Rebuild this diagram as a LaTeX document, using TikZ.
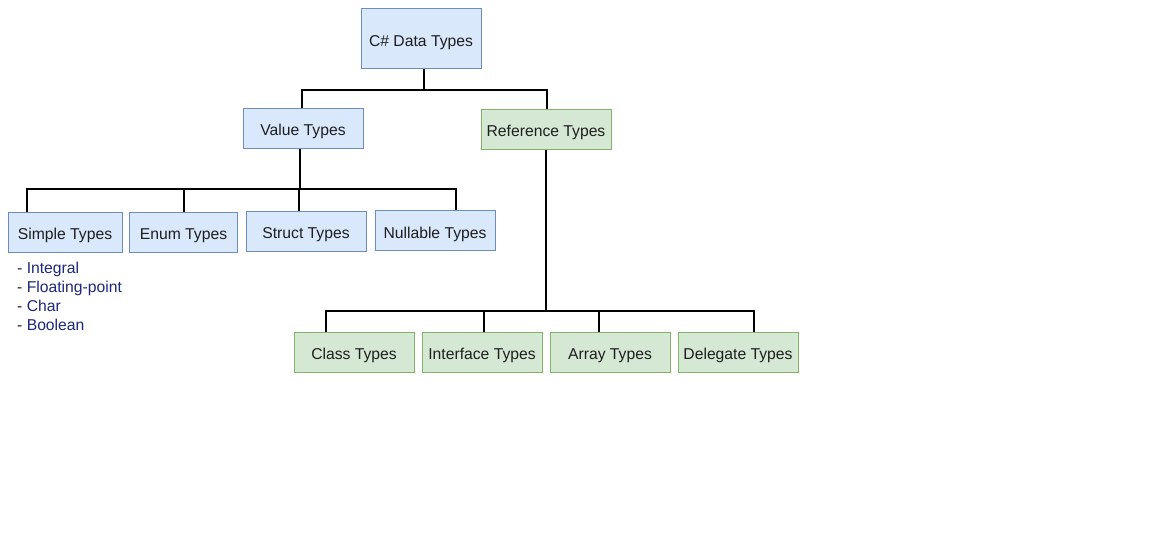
\documentclass[tikz,border=0pt]{standalone}
\usepackage{fontspec}
\setmainfont{Liberation Sans}
\definecolor{bluefill}{HTML}{DAE8FC}
\definecolor{bluestroke}{HTML}{6C8EBF}
\definecolor{greenfill}{HTML}{D5E8D4}
\definecolor{greenstroke}{HTML}{82B366}
\definecolor{txt}{HTML}{1E1E1E}
\definecolor{navy}{HTML}{1E2878}
\begin{document}
\begin{tikzpicture}[x=1pt,y=1pt,
  base/.style={draw, line width=1pt, inner sep=0pt, text=txt,
    font=\fontsize{15.7}{19}\selectfont, minimum height=40pt,
    text height=15pt, text depth=0pt},
  vbox/.style={base, fill=bluefill, draw=bluestroke},
  rbox/.style={base, fill=greenfill, draw=greenstroke},
  conn/.style={draw=black, line width=2pt}]
\useasboundingbox (0,0) rectangle (1175,-543);
\fill[white] (0,0) rectangle (1175,-543);

\node[vbox, minimum width=120pt, minimum height=60pt] (root) at (421,-39) {C\# Data Types};
\node[vbox, minimum width=120pt] (value) at (303,-128) {Value Types};
\node[rbox, minimum width=130pt] (ref) at (546,-129) {Reference Types};

\node[vbox, minimum width=114pt] (simple) at (65,-232) {Simple Types};
\node[vbox, minimum width=108pt] (enum) at (183.5,-232) {Enum Types};
\node[vbox, minimum width=120pt] (struct) at (306,-231) {Struct Types};
\node[vbox, minimum width=120pt] (nullable) at (435,-230.5) {Nullable Types};

\node[rbox, minimum width=120pt] (class) at (354,-352) {Class Types};
\node[rbox, minimum width=120pt] (iface) at (482,-352) {Interface Types};
\node[rbox, minimum width=120pt] (array) at (610,-352) {Array Types};
\node[rbox, minimum width=120pt] (deleg) at (738,-352) {Delegate Types};

\node[anchor=west, inner sep=0pt, align=left, text=navy,
  font=\fontsize{15.7}{19}\selectfont] (list) at (17,-296.5)
  {\textcolor{txt}{-} Integral\\ \textcolor{txt}{-} Floating-point\\ \textcolor{txt}{-} Char\\ \textcolor{txt}{-} Boolean};

% root connectors
\draw[conn] ([xshift=3pt]root.south) -- ++(0,-20) coordinate (rb);
\draw[conn] (rb) -| ([xshift=-1pt]value.north);
\draw[conn] (rb) -| ([xshift=1pt]ref.north);

% value connectors
\draw[conn] ([xshift=-3pt]value.south) -- ++(0,-40) coordinate (vb);
\draw[conn] (vb) -| ([xshift=-38pt]simple.north);
\draw[conn] (vb) -| ([xshift=0.5pt]enum.north);
\draw[conn] (vb) -| ([xshift=-7pt]struct.north);
\draw[conn] (vb) -| ([xshift=20.5pt]nullable.north);

% reference connectors
\draw[conn] (ref.south) -- ++(0,-161) coordinate (fb);
\draw[conn] (fb) -| ([xshift=-28pt]class.north);
\draw[conn] (fb) -| ([xshift=2pt]iface.north);
\draw[conn] (fb) -| ([xshift=-11pt]array.north);
\draw[conn] (fb) -| ([xshift=16pt]deleg.north);
\end{tikzpicture}
\end{document}
